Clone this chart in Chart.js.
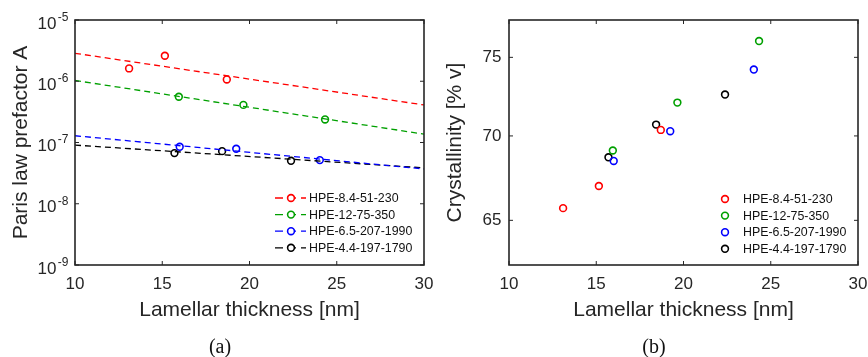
<!DOCTYPE html>
<html>
<head>
<meta charset="utf-8">
<script src="https://cdn.jsdelivr.net/npm/chart.js@4.4.1/dist/chart.umd.min.js"></script>
<style>
  body { margin: 0; background: #fff; }
  #wrap { position: relative; width: 868px; height: 357px; }
  canvas { position: absolute; top: 0; }
  .cap { position: absolute; top: 335px; width: 60px; text-align: center;
         font-family: "Liberation Serif", "DejaVu Serif", serif; font-size: 20px; color: #111; }
</style>
</head>
<body>
<div id="wrap">
  <canvas id="chartParis" width="434" height="357" style="left:0"></canvas>
  <canvas id="chartCryst" width="434" height="357" style="left:434px"></canvas>
  <div class="cap" style="left:190px">(a)</div>
  <div class="cap" style="left:624px">(b)</div>
</div>
<script>
// les donnees
const samples = ['HPE-8.4-51-230', 'HPE-12-75-350', 'HPE-6.5-207-1990', 'HPE-4.4-197-1790'];
const sampleColors = ['#ff0000', '#00a000', '#0000ff', '#000000'];

// epaisseur lamellaire [nm]
const thick84 = [13.1, 15.15, 18.7];
const thick12 = [15.95, 19.65, 24.33];
const thick65 = [16.0, 19.24, 24.03];
const thick44 = [15.7, 18.43, 22.38];

// prefacteur de Paris A
const parisA84 = [1.62e-6, 2.61e-6, 1.07e-6];
const parisA12 = [5.58e-7, 4.11e-7, 2.38e-7];
const parisA65 = [8.51e-8, 7.89e-8, 5.16e-8];
const parisA44 = [6.71e-8, 7.23e-8, 5.03e-8];

// droites de regression (pointilles)
const fitX = [10, 30];
const fit84 = [2.86e-6, 4.1e-7];
const fit12 = [1.03e-6, 1.37e-7];
const fit65 = [1.29e-7, 3.7e-8];
const fit44 = [9.07e-8, 3.85e-8];

// cristallinite [% v]
const cryst84 = [65.70, 66.99, 70.37];
const cryst12 = [69.11, 72.08, 76.08];
const cryst65 = [68.48, 70.29, 74.20];
const cryst44 = [68.70, 70.70, 72.59];

// graduations
const thickTicks = [10, 15, 20, 25, 30];
const parisTicks = [1e-9, 1e-8, 1e-7, 1e-6, 1e-5];
const crystTicks = [65, 70, 75];

const family = '"Liberation Sans", Arial, Helvetica, sans-serif';
const axisColor = '#262626';

function pts(xs, ys) {
    return xs.map((x, i) => ({x: x, y: ys[i]}));
}

function markerSet(label, xs, ys, color) {
    return {
        type: 'scatter',
        label: label,
        data: pts(xs, ys),
        pointStyle: 'circle',
        pointRadius: 3.4,
        pointBorderWidth: 1.6,
        pointBorderColor: color,
        pointBackgroundColor: 'rgba(0,0,0,0)',
        borderColor: color,
        showLine: false
    };
}

function fitSet(xs, ys, color) {
    return {
        type: 'line',
        label: '',
        data: pts(xs, ys),
        borderColor: color,
        borderWidth: 1.3,
        borderDash: [6, 4],
        pointRadius: 0,
        fill: false,
        isFit: true
    };
}

// pas de marge auto pour les etiquettes en bord d'axe
function noPad(s) {
    s.paddingLeft = 0; s.paddingRight = 0; s.paddingTop = 0; s.paddingBottom = 0;
}

// cadre, graduations vers l'interieur, etiquettes 10^n et legende
const framePlugin = {
    id: 'frame',
    afterDraw(chart, args, opts) {
        const ctx = chart.ctx;
        const a = chart.chartArea;
        const xs = chart.scales.x;
        const ys = chart.scales.y;
        ctx.save();
        ctx.strokeStyle = axisColor;
        ctx.lineWidth = 1;
        ctx.setLineDash([]);
        const tl = 4;
        opts.xTicks.forEach(v => {
            const px = xs.getPixelForValue(v);
            ctx.beginPath();
            ctx.moveTo(px, a.bottom); ctx.lineTo(px, a.bottom - tl);
            ctx.moveTo(px, a.top); ctx.lineTo(px, a.top + tl);
            ctx.stroke();
        });
        opts.yTicks.forEach(v => {
            const py = ys.getPixelForValue(v);
            ctx.beginPath();
            ctx.moveTo(a.left, py); ctx.lineTo(a.left + tl, py);
            ctx.moveTo(a.right, py); ctx.lineTo(a.right - tl, py);
            ctx.stroke();
        });
        ctx.lineWidth = 1.6;
        ctx.strokeRect(a.left, a.top, a.right - a.left, a.bottom - a.top);

        // etiquettes en puissance de 10
        if (opts.powerLabels) {
            ctx.fillStyle = axisColor;
            ctx.textBaseline = 'middle';
            ctx.textAlign = 'right';
            opts.yTicks.forEach(v => {
                const py = ys.getPixelForValue(v);
                const e = String(Math.round(Math.log10(v)));
                const xr = a.left - 6.5;
                ctx.font = '12px ' + family;
                ctx.fillText(e, xr, py - 2.5);
                const w = ctx.measureText(e).width;
                ctx.font = '17px ' + family;
                ctx.fillText('10', xr - w - 1.5, py + 4);
            });
        }

        // legende
        const lx = a.left + opts.legendX;
        let ly = a.top + opts.legendY;
        const markers = chart.data.datasets.filter(d => !d.isFit);
        markers.forEach(d => {
            const c = d.borderColor;
            if (opts.legendLine) {
                ctx.strokeStyle = c;
                ctx.lineWidth = 1.3;
                ctx.setLineDash([8, 5]);
                ctx.beginPath();
                ctx.moveTo(lx, ly); ctx.lineTo(lx + 31, ly);
                ctx.stroke();
                ctx.setLineDash([]);
            }
            ctx.strokeStyle = c;
            ctx.fillStyle = '#fff';
            ctx.lineWidth = 1.6;
            ctx.beginPath();
            ctx.arc(lx + 16, ly, 3.4, 0, Math.PI * 2);
            ctx.fill();
            ctx.stroke();
            ctx.fillStyle = '#111';
            ctx.font = '12.4px ' + family;
            ctx.textAlign = 'left';
            ctx.textBaseline = 'middle';
            ctx.fillText(d.label, lx + 34, ly + 0.5);
            ly += 16.6;
        });
        ctx.restore();
    }
};

function baseOptions(yScale, plug) {
    return {
        responsive: false,
        animation: false,
        layout: {padding: {top: 20, right: 10, bottom: 0, left: 0}},
        plugins: {
            legend: {display: false},
            tooltip: {enabled: false},
            frame: plug
        },
        scales: {
            x: {
                type: 'linear',
                min: 10,
                max: 30,
                afterBuildTicks: s => { s.ticks = thickTicks.map(v => ({value: v})); },
                afterFit: s => { s.height = 92; noPad(s); },
                grid: {display: false, drawTicks: false},
                border: {display: false},
                ticks: {font: {size: 17, family: family}, color: axisColor, padding: 9},
                title: {
                    display: true,
                    text: 'Lamellar thickness [nm]',
                    font: {size: 21, family: family},
                    color: axisColor,
                    padding: {top: 0, bottom: 34}
                }
            },
            y: yScale
        }
    };
}

// graphique (a) : prefacteur de Paris
let chartParis = new Chart(document.getElementById('chartParis'), {
    type: 'scatter',
    data: {
        datasets: [
            fitSet(fitX, fit84, sampleColors[0]),
            fitSet(fitX, fit12, sampleColors[1]),
            fitSet(fitX, fit65, sampleColors[2]),
            fitSet(fitX, fit44, sampleColors[3]),
            markerSet(samples[0], thick84, parisA84, sampleColors[0]),
            markerSet(samples[1], thick12, parisA12, sampleColors[1]),
            markerSet(samples[2], thick65, parisA65, sampleColors[2]),
            markerSet(samples[3], thick44, parisA44, sampleColors[3])
        ]
    },
    options: baseOptions({
        type: 'logarithmic',
        min: 1e-9,
        max: 1e-5,
        afterBuildTicks: s => { s.ticks = parisTicks.map(v => ({value: v})); },
        afterFit: s => { s.width = 75; noPad(s); },
        grid: {display: false, drawTicks: false},
        border: {display: false},
        ticks: {display: false},
        title: {
            display: true,
            text: 'Paris law prefactor A',
            font: {size: 21, family: family},
            color: axisColor,
            padding: {top: 8.4, bottom: 0}
        }
    }, {xTicks: thickTicks, yTicks: parisTicks, powerLabels: true, legendLine: true, legendX: 200, legendY: 178}),
    plugins: [framePlugin]
});

// graphique (b) : cristallinite
let chartCryst = new Chart(document.getElementById('chartCryst'), {
    type: 'scatter',
    data: {
        datasets: [
            markerSet(samples[0], thick84, cryst84, sampleColors[0]),
            markerSet(samples[1], thick12, cryst12, sampleColors[1]),
            markerSet(samples[2], thick65, cryst65, sampleColors[2]),
            markerSet(samples[3], thick44, cryst44, sampleColors[3])
        ]
    },
    options: baseOptions({
        type: 'logarithmic',
        min: 62.5,
        max: 77.5,
        afterBuildTicks: s => { s.ticks = crystTicks.map(v => ({value: v})); },
        afterFit: s => { s.width = 75; noPad(s); },
        grid: {display: false, drawTicks: false},
        border: {display: false},
        ticks: {
            font: {size: 17, family: family},
            color: axisColor,
            padding: 7.5,
            callback: v => String(v)
        },
        title: {
            display: true,
            text: 'Crystallinity [% v]',
            font: {size: 21, family: family},
            color: axisColor,
            padding: {top: 8.4, bottom: 0}
        }
    }, {xTicks: thickTicks, yTicks: crystTicks, powerLabels: false, legendLine: false, legendX: 200, legendY: 179}),
    plugins: [framePlugin]
});
</script>
</body>
</html>
